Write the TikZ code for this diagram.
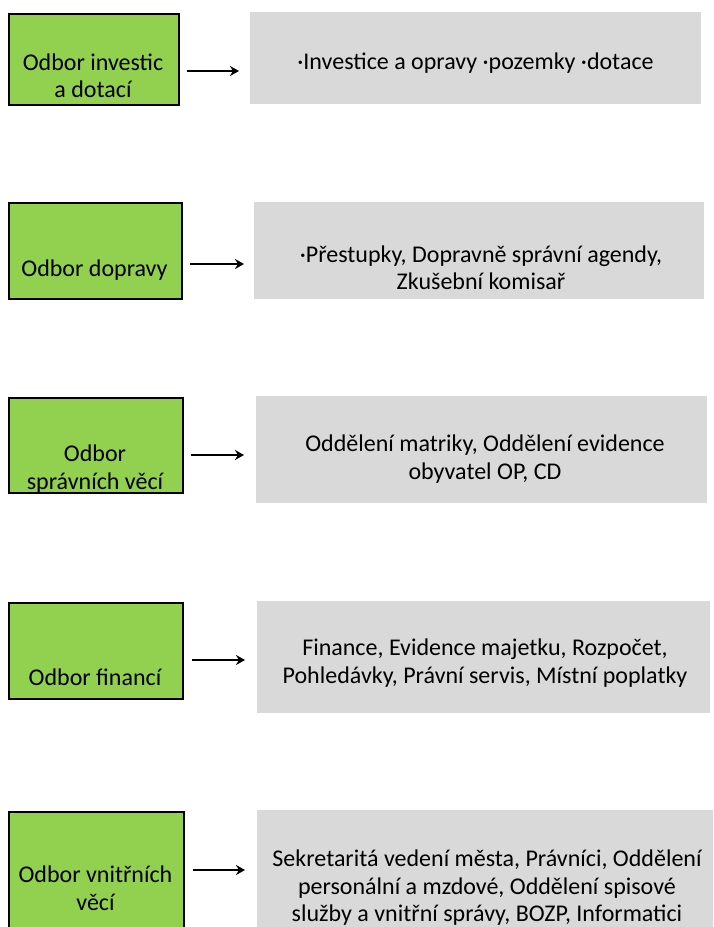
\documentclass[tikz,border=0pt]{standalone}
\usepackage{fontspec}
\setmainfont{Carlito}
\usetikzlibrary{arrows.meta}
\definecolor{boxgreen}{HTML}{92D050}
\definecolor{boxgray}{HTML}{D9D9D9}
\tikzset{
  greenbox/.style={draw=black, line width=2pt, fill=boxgreen, inner sep=0pt, anchor=north west},
  graybox/.style={fill=boxgray, draw=none, inner sep=0pt, anchor=north west},
  label/.style={align=center, font=\fontsize{24}{27.5}\selectfont, inner sep=0pt},
  conn/.style={line width=1.6pt, -{Stealth[length=9pt,width=10pt]}}
}
\begin{document}
\begin{tikzpicture}[x=1pt,y=-1pt]
\useasboundingbox (0,0) rectangle (713,927);
\clip (0,0) rectangle (713,927);
% row 1
\node[greenbox, minimum width=170pt, minimum height=91pt] (g1) at (8,13) {};
\node[graybox, minimum width=451pt, minimum height=92pt] (b1) at (250,12) {};
\node[label] (gt1) at (93,76) {Odbor investic\\a dotací};
\node[label] (bt1) at (475.5,63) {·Investice a opravy ·pozemky ·dotace};
\coordinate (a1s) at (187,71); \coordinate (a1e) at (239,71);
\draw[conn] (a1s) -- (a1e);
% row 2
\node[greenbox, minimum width=173pt, minimum height=96pt] (g2) at (8,202) {};
\node[graybox, minimum width=450pt, minimum height=97pt] (b2) at (254,202) {};
\node[label] (gt2) at (94.5,270) {Odbor dopravy};
\node[label] (bt2) at (481,268) {·Přestupky, Dopravně správní agendy,\\Zkušební komisař};
\coordinate (a2s) at (190,264); \coordinate (a2e) at (244,264);
\draw[conn] (a2s) -- (a2e);
% row 3
\node[greenbox, minimum width=174pt, minimum height=95pt] (g3) at (8,397) {};
\node[graybox, minimum width=451pt, minimum height=107pt] (b3) at (256,396) {};
\node[label] (gt3) at (95,469) {Odbor\\správních věcí};
\node[label] (bt3) at (485,459) {Oddělení matriky, Oddělení evidence\\obyvatel OP, CD};
\coordinate (a3s) at (191,455); \coordinate (a3e) at (244,455);
\draw[conn] (a3s) -- (a3e);
% row 4
\node[greenbox, minimum width=174pt, minimum height=96pt] (g4) at (8,602) {};
\node[graybox, minimum width=453pt, minimum height=112pt] (b4) at (257,601) {};
\node[label] (gt4) at (95,677) {Odbor financí};
\node[label] (bt4) at (485,663) {Finance, Evidence majetku, Rozpočet,\\Pohledávky, Právní servis, Místní poplatky};
\coordinate (a4s) at (192,660); \coordinate (a4e) at (245,660);
\draw[conn] (a4s) -- (a4e);
% row 5
\node[greenbox, minimum width=175pt, minimum height=140pt] (g5) at (8,811) {};
\node[graybox, minimum width=470pt, minimum height=140pt] (b5) at (257,810) {};
\node[label] (gt5) at (95.5,888) {Odbor vnitřních\\věcí};
\node[label] (bt5) at (487,888) {Sekretaritá vedení města, Právníci, Oddělení\\personální a mzdové, Oddělení spisové\\služby a vnitřní správy, BOZP, Informatici};
\coordinate (a5s) at (193,870); \coordinate (a5e) at (245,870);
\draw[conn] (a5s) -- (a5e);
\end{tikzpicture}
\end{document}
